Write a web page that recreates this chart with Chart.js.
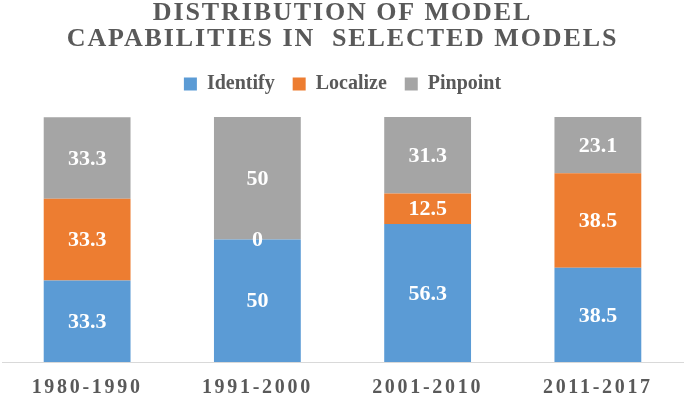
<!DOCTYPE html>
<html>
<head>
<meta charset="utf-8">
<script src="https://cdn.jsdelivr.net/npm/chart.js@4"></script>
<style>
  html, body { margin: 0; padding: 0; background: #fff; }
  #wrap { width: 685px; height: 397px; }
</style>
</head>
<body>
<div id="wrap"><canvas id="c"></canvas></div>
<script>
const periods = ['1980-1990', '1991-2000', '2001-2010', '2011-2017'];
const identify = [33.3, 50, 56.3, 38.5];
const localize = [33.3, 0, 12.5, 38.5];
const pinpoint = [33.3, 50, 31.3, 23.1];

const BLUE = '#5B9BD5', ORANGE = '#ED7D31', GRAY = '#A5A5A5', TEXT = '#595959';
const SERIF = '"Liberation Serif", "Times New Roman", serif';

// wrap one drawing method so its text gets some letter spacing
function spaced(obj, method, sp) {
  if (!obj || obj['_sp_' + method]) return;
  obj['_sp_' + method] = true;
  const fn = obj[method];
  obj[method] = function (...args) {
    this.ctx.save();
    this.ctx.letterSpacing = sp;
    fn.apply(this, args);
    this.ctx.restore();
  };
}

const spacing = {
  id: 'spacing',
  beforeInit(chart) {
    // leave a gap between the legend and the bars
    const fit = chart.legend.fit;
    chart.legend.fit = function () {
      fit.call(this);
      this.height += 13;
    };
  },
  beforeDraw(chart) {
    spaced(chart.titleBlock, 'draw', '1.9px');
    spaced(chart.scales.x, 'drawLabels', '2.7px');
  }
};

// white values in the middle of each segment
const valueLabels = {
  id: 'valueLabels',
  afterDatasetsDraw(chart) {
    const ctx = chart.ctx;
    ctx.save();
    ctx.font = 'bold 22px ' + SERIF;
    ctx.fillStyle = '#fff';
    ctx.textAlign = 'center';
    ctx.textBaseline = 'middle';
    chart.data.datasets.forEach((ds, i) => {
      chart.getDatasetMeta(i).data.forEach((bar, j) => {
        const y = (bar.y + bar.base) / 2 + 1;
        ctx.fillText(String(ds.data[j]), bar.x, y);
      });
    });
    ctx.restore();
  }
};

new Chart(document.getElementById('c'), {
  type: 'bar',
  data: {
    labels: periods,
    datasets: [
      { label: 'Identify', data: identify, backgroundColor: BLUE },
      { label: 'Localize', data: localize, backgroundColor: ORANGE },
      { label: 'Pinpoint', data: pinpoint, backgroundColor: GRAY }
    ]
  },
  options: {
    responsive: true,
    maintainAspectRatio: false,
    animation: false,
    datasets: { bar: { categoryPercentage: 1, barPercentage: 0.51 } },
    layout: { padding: { left: 2, right: 2, top: 0, bottom: 0 } },
    plugins: {
      title: {
        display: true,
        text: ['DISTRIBUTION OF MODEL', 'CAPABILITIES IN  SELECTED MODELS'],
        color: TEXT,
        font: { family: SERIF, size: 26, weight: 'bold', lineHeight: 1.0 },
        padding: { top: 0, bottom: 4 }
      },
      legend: {
        position: 'top',
        labels: {
          color: TEXT,
          font: { family: SERIF, size: 20, weight: 'bold' },
          boxWidth: 13, boxHeight: 13,
          padding: 18
        }
      },
      tooltip: { enabled: false }
    },
    scales: {
      x: {
        stacked: true,
        grid: { display: false },
        border: { color: '#D9D9D9', width: 1 },
        ticks: { color: TEXT, font: { family: SERIF, size: 20, weight: 'bold' }, padding: 6 },
        afterFit(scale) { scale.height = 35; }
      },
      y: {
        stacked: true,
        display: false,
        min: 0, max: 100
      }
    }
  },
  plugins: [spacing, valueLabels]
});
</script>
</body>
</html>
